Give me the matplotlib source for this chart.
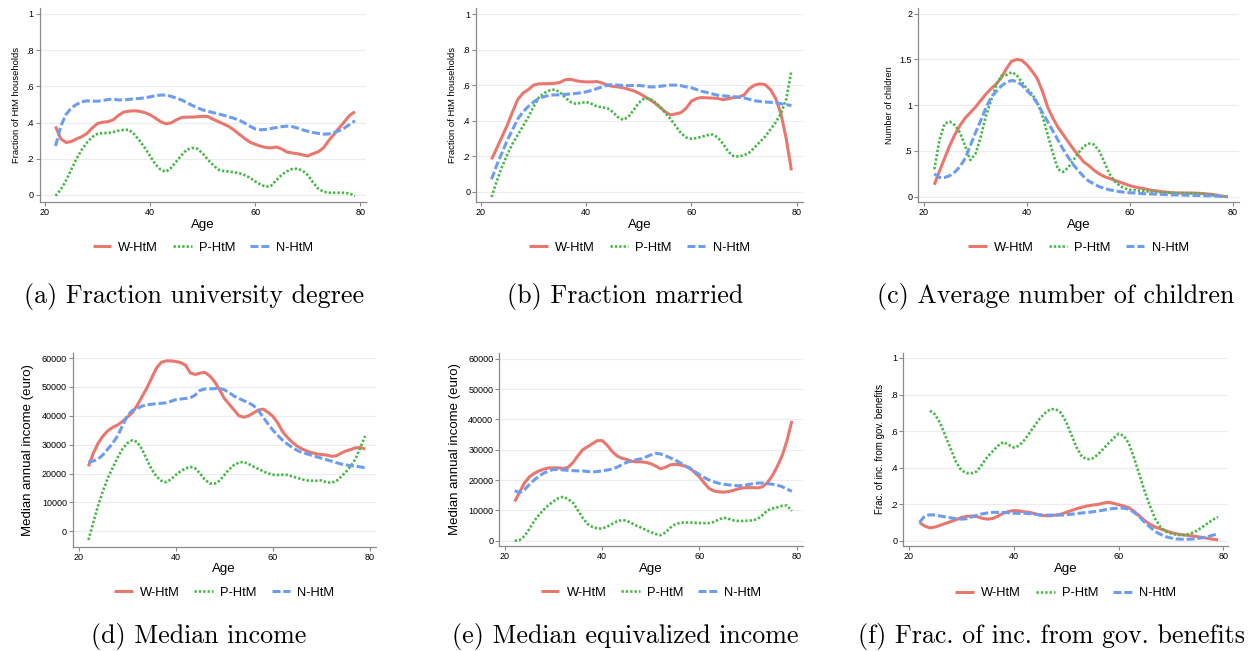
import numpy as np
import matplotlib.pyplot as plt

# ages on the horizontal axis (one point per year)
AGES = list(range(22, 80))
nan = np.nan

# (a) fraction with university degree
UNI_W = [.378, .31, .29, .295, .31, .322, .34, .37, .395, .402,
         .405, .415, .44, .458, .463, .465, .462, .455, .443, .425,
         .405, .393, .398, .415, .428, .43, .43, .432, .435, .433,
         .418, .405, .392, .378, .358, .335, .312, .292, .28, .27,
         .262, .26, .265, .255, .238, .232, .228, .222, .215, .228,
         .238, .26, .3, .335, .37, .405, .44, .46]
UNI_P = [-.005, .03, .08, .14, .2, .25, .29, .32, .338, .342,
         .342, .348, .355, .36, .36, .335, .3, .26, .215, .17,
         .14, .128, .15, .185, .22, .25, .26, .255, .23, .195,
         .165, .14, .132, .13, .125, .12, .11, .095, .075, .058,
         .045, .05, .08, .11, .13, .143, .145, .135, .11, .07,
         .035, .018, .012, .012, .012, .012, .008, -.005]
UNI_N = [.27, .38, .445, .48, .5, .515, .52, .518, .518, .522,
         .527, .53, .525, .525, .528, .532, .533, .537, .542, .548,
         .552, .552, .545, .535, .525, .51, .495, .482, .47, .462,
         .455, .448, .44, .432, .423, .413, .397, .38, .365, .36,
         .362, .367, .372, .377, .38, .378, .37, .36, .352, .345,
         .34, .336, .337, .345, .355, .37, .39, .41]

# (b) fraction married
MAR_W = [.182, .245, .31, .375, .45, .52, .555, .575, .6, .607,
         .608, .608, .61, .615, .63, .633, .625, .62, .618, .618,
         .62, .612, .6, .593, .59, .585, .577, .568, .555, .537,
         .52, .5, .475, .45, .432, .438, .445, .47, .51, .525,
         .53, .528, .527, .525, .518, .523, .53, .532, .545, .58,
         .6, .607, .603, .575, .525, .44, .3, .12]
MAR_P = [-.03, .06, .14, .21, .27, .32, .37, .42, .48, .53,
         .555, .57, .575, .56, .53, .505, .495, .5, .505, .495,
         .48, .475, .47, .45, .42, .405, .42, .46, .5, .525,
         .525, .505, .48, .445, .41, .37, .33, .305, .298, .302,
         .31, .318, .322, .305, .27, .225, .2, .198, .205, .22,
         .25, .28, .31, .35, .39, .44, .52, .68]
MAR_N = [.07, .15, .22, .29, .35, .41, .45, .48, .505, .525,
         .535, .543, .545, .545, .548, .55, .553, .557, .562, .57,
         .58, .59, .6, .603, .6, .598, .597, .598, .598, .595,
         .59, .59, .593, .597, .6, .6, .597, .59, .585, .575,
         .565, .558, .55, .543, .54, .537, .535, .532, .528, .52,
         .512, .508, .505, .503, .5, .495, .49, .485]

# (c) average number of children
KID_W = [.13, .28, .42, .56, .68, .78, .86, .92, .98, 1.05,
         1.12, 1.18, 1.23, 1.3, 1.4, 1.48, 1.5, 1.49, 1.44, 1.37,
         1.29, 1.15, .98, .86, .76, .68, .6, .52, .45, .38,
         .34, .29, .25, .22, .2, .18, .16, .14, .12, .105,
         .095, .085, .07, .065, .055, .05, .045, .04, .04, .04,
         .04, .038, .035, .03, .025, .015, .005, 0]
KID_P = [.3, .62, .8, .82, .78, .7, .55, .4, .47, .65,
         .88, 1.05, 1.22, 1.32, 1.33, 1.36, 1.33, 1.25, 1.18, 1.12,
         1.03, .88, .68, .48, .3, .27, .32, .4, .48, .55,
         .58, .57, .5, .38, .25, .17, .12, .09, .075, .07,
         .065, .06, .055, .05, .045, .045, .042, .04, .04, .04,
         .038, .035, .03, .025, .015, .008, .003, 0]
KID_N = [.25, .21, .21, .23, .27, .33, .42, .56, .7, .83,
         .97, 1.08, 1.15, 1.21, 1.25, 1.27, 1.26, 1.22, 1.16, 1.1,
         1.02, .92, .82, .72, .62, .52, .43, .35, .28, .22,
         .17, .14, .11, .09, .075, .065, .055, .048, .043, .04,
         .035, .032, .03, .028, .025, .023, .02, .02, .018, .016,
         .015, .013, .012, .01, .008, .006, .003, 0]

# (d) median income
INC_W = [22500, 27000, 30500, 33000, 34800, 36000, 36800, 38000, 39500, 41000,
         43500, 46500, 49500, 53000, 56500, 58500, 59000, 59000, 58800, 58400,
         57500, 54800, 54300, 54800, 55000, 53800, 51800, 49000, 46000, 44000,
         42000, 40000, 39500, 40000, 41000, 42000, 42300, 41200, 39800, 37500,
         34500, 32500, 30800, 29500, 28500, 27800, 27200, 26800, 26600, 26400,
         26000, 26100, 27000, 27800, 28300, 28900, 29000, 28500]
INC_P = [-3000, 3000, 9000, 14000, 18500, 22000, 25500, 28500, 30500, 31500,
         31000, 28500, 25000, 21500, 19000, 17500, 17000, 18000, 19500, 20800,
         21800, 22300, 21800, 20000, 17800, 16600, 16500, 17500, 19500, 21500,
         23000, 23800, 24000, 23300, 22400, 21600, 20800, 20000, 19600, 19500,
         19600, 19500, 19000, 18500, 18000, 17600, 17500, 17500, 17600, 17000,
         16800, 17300, 18800, 20500, 22500, 25000, 29000, 33000]
INC_N = [24000, 24300, 25000, 26500, 28500, 30500, 33000, 36500, 40000, 41800,
         42500, 43300, 43800, 44000, 44200, 44300, 44500, 45000, 45600, 45800,
         46000, 46200, 47200, 48800, 49300, 49300, 49400, 49500, 49000, 48000,
         46800, 46000, 45200, 44500, 43500, 41800, 39500, 37200, 35000, 33200,
         31500, 30200, 29000, 28000, 27300, 26800, 26300, 25800, 25300, 24800,
         24300, 23800, 23300, 23000, 22700, 22500, 22300, 22000]

# (e) median equivalized income
EQ_W = [12900, 16000, 19000, 21000, 22200, 23000, 23600, 24000, 24000, 24000,
        23800, 24200, 25800, 28000, 30000, 31000, 32000, 33000, 33000, 31500,
        29500, 28000, 27200, 26800, 26200, 26000, 26000, 25800, 25400, 24600,
        23700, 24200, 25000, 25200, 25000, 24600, 24000, 22500, 21000, 19000,
        17200, 16400, 16100, 16000, 16200, 16600, 17100, 17400, 17500, 17500,
        17400, 17800, 19200, 21500, 24500, 28000, 33000, 39500]
EQ_P = [0, 200, 1500, 3800, 6500, 8500, 10300, 11800, 13000, 14000,
        14500, 13700, 12500, 10000, 7500, 5500, 4500, 4000, 4000, 4600,
        5500, 6300, 6800, 6600, 5800, 5000, 4300, 3500, 2800, 2200,
        1800, 2700, 4300, 5400, 5900, 6000, 6000, 5900, 5800, 5800,
        5800, 6200, 7000, 7600, 7200, 6700, 6500, 6500, 6600, 6700,
        7200, 8500, 10000, 10600, 11000, 11500, 11600, 9800]
EQ_N = [16500, 15800, 16800, 18500, 20000, 21300, 22300, 23000, 23500, 23500,
        23300, 23200, 23100, 23000, 23000, 22800, 22700, 22800, 23000, 23300,
        23600, 24200, 25000, 25800, 26300, 26700, 27000, 27600, 28300, 28800,
        28600, 28000, 27300, 26600, 25700, 24800, 23800, 22800, 21800, 20800,
        20000, 19400, 18900, 18600, 18400, 18200, 18100, 18200, 18500, 18800,
        19000, 19000, 18800, 18600, 18300, 17800, 17000, 16300]

# (f) fraction of income from government benefits
GOV_W = [.1, .08, .07, .075, .085, .095, .105, .115, .127, .133,
         .135, .132, .122, .118, .122, .135, .15, .16, .165, .163,
         .158, .155, .148, .14, .137, .137, .14, .145, .155, .165,
         .175, .183, .19, .195, .198, .205, .21, .205, .197, .19,
         .18, .16, .135, .11, .09, .075, .065, .055, .045, .038,
         .033, .03, .027, .022, .018, .013, .008, .005]
GOV_P = [nan, nan, .712, .69, .64, .57, .5, .43, .385, .37,
         .37, .38, .42, .46, .49, .52, .54, .525, .51, .52,
         .55, .59, .63, .67, .7, .72, .72, .7, .65, .58,
         .51, .46, .445, .45, .47, .5, .53, .56, .585, .575,
         .53, .45, .36, .27, .19, .12, .075, .05, .04, .033,
         .03, .033, .042, .055, .075, .095, .115, .13]
GOV_N = [.1, .135, .142, .14, .135, .13, .125, .12, .118, .12,
         .13, .14, .147, .152, .155, .155, .155, .153, .15, .15,
         .15, .148, .145, .142, .14, .14, .14, .14, .142, .145,
         .148, .152, .155, .158, .162, .167, .172, .176, .178, .178,
         .172, .155, .13, .1, .075, .05, .035, .022, .015, .01,
         .008, .008, .009, .012, .016, .022, .03, .038]

GROUPS = ['W-HtM', 'P-HtM', 'N-HtM']
X_TICKS = [20, 40, 60, 80]
FRAC_TICKS = [0, .2, .4, .6, .8, 1]
FRAC_LABELS = ['0', '.2', '.4', '.6', '.8', '1']
KID_TICKS = [0, .5, 1, 1.5, 2]
KID_LABELS = ['0', '.5', '1', '1.5', '2']
INC_TICKS = [0, 10000, 20000, 30000, 40000, 50000, 60000]
INC_LABELS = [str(t) for t in INC_TICKS]

W, H = 1250, 651
COLORS = ['#e9776e', '#46b946', '#6c9df2']
STYLES = ['-', (0, (0.9, 0.75)), (0, (2.6, 0.95))]
WIDTHS = [2.2, 1.9, 2.2]

plt.rcParams['font.family'] = ['Liberation Sans', 'DejaVu Sans']

fig = plt.figure(figsize=(12.5, 6.51), dpi=100)

# pixel boxes (x0, y0, x1, y1), axis limits and label placement per panel
panels = [
    dict(box=(39.5, 8, 366, 202), xlim=(18.95, 81.1), ylim=(-0.039, 1.033),
         series=(UNI_W, UNI_P, UNI_N), ticks=(FRAC_TICKS, FRAC_LABELS),
         ylabel='Fraction of HtM households', ysize=6.8, ylab_x=16.7,
         age_y=225, leg_y=248, caption='(a) Fraction university degree', cap_x=194, cap_y=296),
    dict(box=(476, 8, 802.7, 202), xlim=(19.05, 81.14), ylim=(-0.058, 1.034),
         series=(MAR_W, MAR_P, MAR_N), ticks=(FRAC_TICKS, FRAC_LABELS),
         ylabel='Fraction of HtM households', ysize=6.8, ylab_x=452.7,
         age_y=225, leg_y=248, caption='(b) Fraction married', cap_x=625, cap_y=296),
    dict(box=(918, 8, 1238.7, 202), xlim=(18.83, 81.1), ylim=(-0.058, 2.062),
         series=(KID_W, KID_P, KID_N), ticks=(KID_TICKS, KID_LABELS),
         ylabel='Number of children', ysize=6.6, ylab_x=889,
         age_y=225, leg_y=248, caption='(c) Average number of children', cap_x=1056, cap_y=296),
    dict(box=(72.7, 352.7, 375.7, 546.7), xlim=(18.76, 81.17), ylim=(-5330, 61835),
         series=(INC_W, INC_P, INC_N), ticks=(INC_TICKS, INC_LABELS),
         ylabel='Median annual income (euro)', ysize=9.5, ylab_x=28,
         age_y=569, leg_y=592.7, caption='(d) Median income', cap_x=199, cap_y=637),
    dict(box=(499, 352.7, 802.7, 546), xlim=(18.77, 81.23), ylim=(-1750, 61980),
         series=(EQ_W, EQ_P, EQ_N), ticks=(INC_TICKS, INC_LABELS),
         ylabel='Median annual income (euro)', ysize=9.5, ylab_x=455,
         age_y=569, leg_y=592.7, caption='(e) Median equivalized income', cap_x=625, cap_y=637),
    dict(box=(903.3, 352.7, 1228, 546), xlim=(18.91, 80.9), ylim=(-0.029, 1.029),
         series=(GOV_W, GOV_P, GOV_N), ticks=(FRAC_TICKS, FRAC_LABELS),
         ylabel='Frac. of inc. from gov. benefits', ysize=7, ylab_x=880,
         age_y=569, leg_y=593, caption='(f) Frac. of inc. from gov. benefits', cap_x=1051, cap_y=637),
]

for p in panels:
    x0, y0, x1, y1 = p['box']
    ax = fig.add_axes([x0 / W, 1 - y1 / H, (x1 - x0) / W, (y1 - y0) / H])
    for vals, name, col, ls, lw in zip(p['series'], GROUPS, COLORS, STYLES, WIDTHS):
        ax.plot(AGES, vals, color=col, linestyle=ls, linewidth=lw, label=name,
                solid_capstyle='butt', clip_on=False, zorder=3)

    ax.set_xlim(*p['xlim'])
    ax.set_ylim(*p['ylim'])
    ax.set_xticks(X_TICKS)
    ax.set_yticks(p['ticks'][0])
    ax.set_yticklabels(p['ticks'][1])
    ax.grid(axis='y', color='#ececec', linewidth=0.8, zorder=0)
    ax.set_axisbelow(True)
    for side in ['top', 'right']:
        ax.spines[side].set_visible(False)
    for side in ['left', 'bottom']:
        ax.spines[side].set_color('#8a8a8a')
        ax.spines[side].set_linewidth(0.9)
    ax.tick_params(length=3, width=0.8, color='#8a8a8a', labelsize=6.5, pad=1.2)

    ax.set_ylabel(p['ylabel'], fontsize=p['ysize'], va='center')
    ax.yaxis.set_label_coords((p['ylab_x'] - x0) / (x1 - x0), 0.5)
    ax.set_xlabel('Age', fontsize=9.5, va='center')
    ax.xaxis.set_label_coords(0.5, (y1 - p['age_y']) / (y1 - y0))

    fig.legend(*ax.get_legend_handles_labels(), loc='center', ncol=3, frameon=False,
               fontsize=9.3, handlelength=1.45, handletextpad=0.55, columnspacing=1.15,
               bbox_to_anchor=((x0 + x1) / 2 / W, 1 - p['leg_y'] / H))

    fig.text(p['cap_x'] / W, 1 - p['cap_y'] / H, p['caption'], family='cmr10',
             fontsize=18.7, ha='center', va='center')

fig.savefig('out.png', dpi=100, facecolor='white')
